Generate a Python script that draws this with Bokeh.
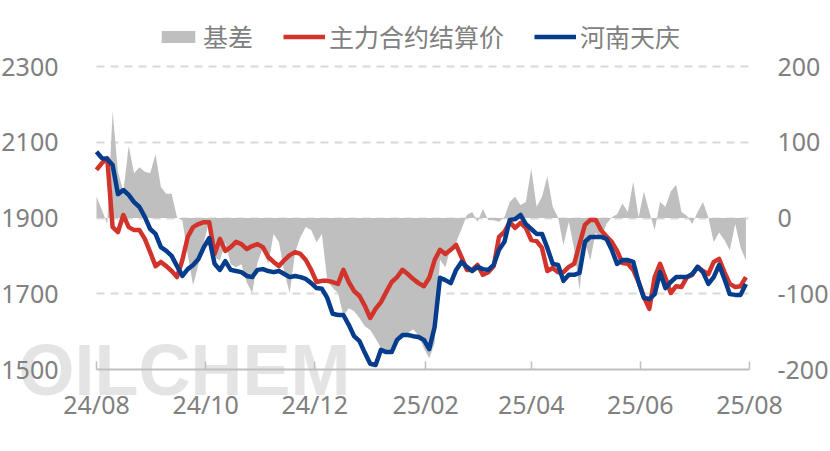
import pandas as pd
from bokeh.plotting import figure
from bokeh.models import (Range1d, LinearAxis, FixedTicker, DatetimeTickFormatter,
                          CustomJSTickFormatter, Legend, LegendItem, Label,
                          ColumnDataSource)
from bokeh.embed import file_html
from bokeh.resources import INLINE

# ---------------- data ----------------
dates = pd.date_range("2024-08-01", periods=122, freq="3D")

futures = [2027, 2045, 2058, 1876, 1863, 1908, 1876, 1868, 1868, 1845,
           1810, 1773, 1784, 1773, 1760, 1744, 1789, 1850, 1876, 1884,
           1889, 1889, 1805, 1845, 1813, 1823, 1837, 1831, 1818, 1826,
           1831, 1823, 1797, 1784, 1773, 1789, 1802, 1810, 1805, 1789,
           1763, 1731, 1734, 1734, 1731, 1726, 1763, 1731, 1707, 1694,
           1668, 1636, 1660, 1678, 1705, 1731, 1744, 1763, 1752, 1739,
           1728, 1720, 1742, 1789, 1816, 1805, 1816, 1829, 1797, 1763,
           1763, 1776, 1750, 1757, 1773, 1850, 1863, 1889, 1874, 1887,
           1874, 1842, 1839, 1821, 1760, 1768, 1757, 1757, 1771, 1779,
           1831, 1882, 1895, 1895, 1868, 1852, 1837, 1813, 1781, 1779,
           1763, 1731, 1691, 1660, 1744, 1779, 1742, 1702, 1720, 1718,
           1744, 1750, 1771, 1760, 1752, 1784, 1792, 1757, 1726, 1718, 1720, 1744]

henan = [2075, 2058, 2056, 2040, 1963, 1974, 1961, 1942, 1929, 1903,
         1871, 1858, 1823, 1813, 1800, 1773, 1747, 1765, 1776, 1792,
         1823, 1847, 1779, 1763, 1786, 1763, 1760, 1757, 1747, 1744,
         1763, 1765, 1760, 1757, 1760, 1752, 1744, 1747, 1744, 1739,
         1728, 1715, 1713, 1689, 1647, 1644, 1644, 1618, 1588, 1575,
         1544, 1515, 1512, 1552, 1546, 1546, 1578, 1591, 1591, 1588,
         1586, 1578, 1554, 1612, 1742, 1736, 1728, 1763, 1784, 1771,
         1760, 1771, 1765, 1763, 1776, 1816, 1837, 1895, 1897, 1908,
         1884, 1871, 1858, 1858, 1821, 1779, 1776, 1734, 1750, 1750,
         1755, 1837, 1850, 1850, 1850, 1845, 1816, 1779, 1789, 1789,
         1784, 1731, 1689, 1686, 1699, 1757, 1715, 1731, 1744, 1744,
         1744, 1752, 1771, 1757, 1726, 1744, 1776, 1739, 1699, 1697, 1697, 1726]

basis = [28, 11, -8, 141, 61, 35, 95, 59, 67, 61,
         59, 84, 41, 32, 32, 1, -3, -49, -89, -61,
         -32, -5, -52, -56, -32, -61, -65, -61, -85, -99,
         -59, -39, -61, -21, -32, -72, -99, -45, -25, -12,
         -16, -32, -21, -83, -92, -99, -129, -119, -123, -132,
         -143, -148, -159, -172, -179, -172, -163, -159, -152, -147,
         -155, -172, -185, -165, -55, -65, -39, -32, -15, 4,
         8, -5, 12, -3, -3, -5, 1, 21, 28, 17,
         21, 65, 15, 28, 55, 15, 1, -36, -5, -41,
         -95, -32, -56, -19, -28, -8, 1, 5, 19, 8,
         48, 1, 35, 8, -16, 21, 15, 35, 44, 8,
         3, -8, 8, 21, 1, -32, -19, -29, -43, -8, -39, -56]

month_ticks = ["2024-08-01", "2024-10-01", "2024-12-01", "2025-02-01",
               "2025-04-01", "2025-06-01", "2025-08-01"]
price_ticks = [1500, 1700, 1900, 2100, 2300]
basis_ticks = [-200, -100, 0, 100, 200]
series_names = ["基差", "主力合约结算价", "河南天庆"]

# ---------------- layout geometry (pixels) ----------------
W, H = 830, 451
PX_L, PX_R, PX_T, PX_B = 96, 749, 66, 369   # plot area of the axes

# ---------------- styling ----------------
RED = "#D2332A"
BLUE = "#053C8C"
GRAY = "#BFBFBF"
TXT = "#808080"
FONT = "Noto Sans"
CJK = "Noto Sans CJK SC"

t0 = pd.Timestamp(month_ticks[0])
t1 = pd.Timestamp(month_ticks[-1])
ms0 = t0.value // 10**6
ms1 = t1.value // 10**6
spx = (t1 - t0) / (PX_R - PX_L)
x_range = Range1d((t0 - spx * PX_L).to_pydatetime(), (t1 + spx * (W - PX_R)).to_pydatetime())
ppx = (price_ticks[-1] - price_ticks[0]) / (PX_B - PX_T)
y_range = Range1d(price_ticks[0] - ppx * (H - PX_B), price_ticks[-1] + ppx * PX_T)
bpx = (basis_ticks[-1] - basis_ticks[0]) / (PX_B - PX_T)
b_range = Range1d(basis_ticks[0] - bpx * (H - PX_B), basis_ticks[-1] + bpx * PX_T)

src = ColumnDataSource(dict(date=dates, futures=futures, henan=henan, basis=basis))

p = figure(width=W, height=H, x_axis_type="datetime",
           x_range=x_range, y_range=y_range,
           output_backend="svg", toolbar_location=None,
           min_border=0)
p.extra_y_ranges = {"basis": b_range}
p.outline_line_color = None
p.background_fill_color = "white"
p.border_fill_color = "white"

# watermark
wm = Label(x=18, y=H - 329, x_units="screen", y_units="screen", text="OILCHEM",
           text_font="Liberation Sans", text_font_style="bold",
           text_font_size="72px", text_color="#d2d2d2", text_alpha=0.6,
           text_baseline="top", level="underlay")
p.add_layout(wm)

area = p.varea(x="date", y1=0, y2="basis", source=src, y_range_name="basis",
               fill_color=GRAY)
l_fut = p.line(x="date", y="futures", source=src, line_color=RED, line_width=4.5,
               line_join="round")
l_hn = p.line(x="date", y="henan", source=src, line_color=BLUE, line_width=4.5,
              line_join="round")

# axes
xa = p.xaxis[0]
xa.fixed_location = price_ticks[0]
xa.bounds = (ms0, ms1)
xa.ticker = FixedTicker(ticks=[pd.Timestamp(d).value // 10**6 for d in month_ticks])
fmt = "%y/%m"
xa.formatter = DatetimeTickFormatter(days=fmt, months=fmt, years=fmt, hours=fmt,
                                     minutes=fmt, seconds=fmt, milliseconds=fmt,
                                     microseconds=fmt, hourmin=fmt, minsec=fmt)
xa.axis_line_color = GRAY
xa.axis_line_width = 2
xa.major_tick_line_color = GRAY
xa.major_tick_line_width = 1.5
xa.major_tick_in = 8
xa.major_tick_out = 0
xa.minor_tick_line_color = None
xa.major_label_text_font = FONT
xa.major_label_text_font_size = "25px"
xa.major_label_text_color = TXT
xa.major_label_standoff = 17

ya = p.yaxis[0]
ya.fixed_location = ms0
ya.bounds = (price_ticks[0], price_ticks[-1])
ya.ticker = FixedTicker(ticks=price_ticks)
ya.axis_line_color = None
ya.major_tick_line_color = None
ya.minor_tick_line_color = None
ya.major_label_text_font = FONT
ya.major_label_text_font_size = "25px"
ya.major_label_text_color = TXT
ya.major_label_standoff = 32

ra = LinearAxis(y_range_name="basis", ticker=FixedTicker(ticks=basis_ticks),
                formatter=CustomJSTickFormatter(code="return tick.toFixed(0);"))
ra.fixed_location = ms1
ra.bounds = (basis_ticks[0], basis_ticks[-1])
ra.axis_line_color = None
ra.major_tick_line_color = None
ra.minor_tick_line_color = None
ra.major_label_text_font = FONT
ra.major_label_text_font_size = "25px"
ra.major_label_text_color = TXT
ra.major_label_standoff = 22
p.add_layout(ra, "right")

p.xgrid.visible = False
g = p.ygrid[0]
g.ticker = FixedTicker(ticks=price_ticks[1:])
g.grid_line_color = "#D9D9D9"
g.grid_line_width = 2
g.grid_line_dash = "8 6"
if "cross_bounds" in g.properties():
    g.cross_bounds = (ms0, ms1)

legend = Legend(items=[LegendItem(label=series_names[0], renderers=[area]),
                       LegendItem(label=series_names[1], renderers=[l_fut]),
                       LegendItem(label=series_names[2], renderers=[l_hn])],
                location=(157, H - 54), orientation="horizontal",
                glyph_width=42, glyph_height=15, label_standoff=4, spacing=30,
                padding=0, margin=0,
                label_text_font=CJK, label_text_font_size="25px",
                label_text_color=TXT,
                background_fill_alpha=0, border_line_color=None)
p.add_layout(legend, "center")

open("out.html", "w").write(file_html(p, INLINE))
